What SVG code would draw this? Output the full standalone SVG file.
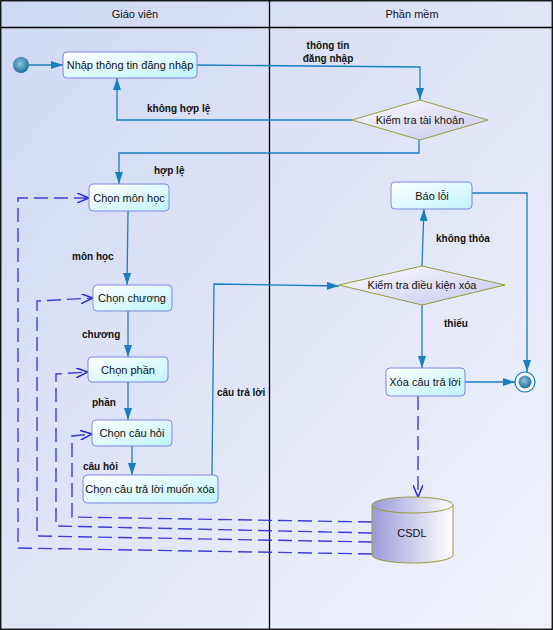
<svg xmlns="http://www.w3.org/2000/svg" width="553" height="630" viewBox="0 0 553 630">
<defs>
<linearGradient id="bg" x1="0" y1="0" x2="1" y2="1">
<stop offset="0" stop-color="#cfd9f4"/>
<stop offset="1" stop-color="#f1f2fb"/>
</linearGradient>
<linearGradient id="box" x1="0" y1="0" x2="1" y2="1">
<stop offset="0" stop-color="#ffffff"/>
<stop offset="1" stop-color="#bff4fb"/>
</linearGradient>
<linearGradient id="dia" x1="0" y1="0" x2="1" y2="1">
<stop offset="0" stop-color="#ffffff"/>
<stop offset="1" stop-color="#c4c4f0"/>
</linearGradient>
<linearGradient id="cyl" x1="0" y1="0" x2="1" y2="0">
<stop offset="0" stop-color="#9a9ad8"/>
<stop offset="1" stop-color="#ffffff"/>
</linearGradient>
<radialGradient id="dot" cx="0.45" cy="0.4" r="0.6">
<stop offset="0" stop-color="#8ec4d8"/>
<stop offset="1" stop-color="#1d6f9e"/>
</radialGradient>
<marker id="ah" viewBox="0 0 12 8" refX="12" refY="4" markerWidth="12" markerHeight="8" markerUnits="userSpaceOnUse" orient="auto">
<path d="M0,0 L12,4 L0,8 Z" fill="#1a7fbf"/>
</marker>
<marker id="oh" viewBox="0 0 12 10" refX="12" refY="5" markerWidth="12" markerHeight="10" markerUnits="userSpaceOnUse" orient="auto">
<path d="M0,0 L12,5 L0,10" fill="none" stroke="#2a2ad0" stroke-width="1.5"/>
</marker>
</defs>
<style>
.node rect{fill:url(#box);stroke:#7f86e0;stroke-width:1}
.node polygon{fill:url(#dia);stroke:#9a9a3a;stroke-width:1}
text{font-family:"Liberation Sans",Arial,sans-serif;font-size:11px;fill:#111}
.nt{text-anchor:middle;dominant-baseline:central}
.lbl{font-weight:bold;font-size:10px;fill:#111}
.flow path{fill:none;stroke:#1a7fbf;stroke-width:1.3}
.flow path.a{marker-end:url(#ah)}
.data path{fill:none;stroke:#3c3cd8;stroke-width:1.4;stroke-dasharray:14 6}
.data path.a{marker-end:url(#oh)}
</style>
<rect x="0" y="0" width="553" height="630" fill="url(#bg)"/>
<g id="lanes" fill="none" stroke="#000" stroke-width="1.3">
<rect x="0.75" y="0.75" width="551.5" height="628.5"/>
<line x1="0" y1="27.5" x2="553" y2="27.5"/>
<line x1="269.5" y1="0" x2="269.5" y2="630"/>
</g>
<text class="nt" x="135" y="14">Giáo viên</text>
<text class="nt" x="412" y="14">Phần mềm</text>

<g id="connectors">
<g class="flow">
<path class="a" d="M29,65 L63,65"/>
<path class="a" d="M197,65 L420,67 L420,100"/>
<path class="a" d="M352,120 L117,120 L117,78"/>
<path class="a" d="M419,140 L419,153 L119,153 L119,184"/>
<path class="a" d="M128,211 L127,285"/>
<path class="a" d="M128,311 L128,357"/>
<path class="a" d="M128,382 L128,420"/>
<path class="a" d="M132,446 L132,475"/>
<path class="a" d="M212,475 L214,284 L339,286"/>
<path class="a" d="M422,266 L424,209"/>
<path class="a" d="M422,305 L422,368"/>
<path class="a" d="M472,193 L527,193 L527,372"/>
<path class="a" d="M465,382 L515,382"/>
</g>
<g class="data">
<path class="a" d="M418,396 L418,497"/>
<path class="a" d="M372,554 L18,548 L18,198 L89,198"/>
<path class="a" d="M372,542 L37,536 L37,301 L93,298"/>
<path class="a" d="M372,533 L56,526 L56,374 L88,372"/>
<path class="a" d="M372,522 L72,517 L72,436 L92,434"/>
</g>
</g>

<g id="start"><circle cx="21" cy="65" r="8" fill="url(#dot)"/></g>
<g id="end"><circle cx="525" cy="382" r="10" fill="#fff" stroke="#1a7fbf" stroke-width="1.2"/><circle cx="525" cy="382" r="6.5" fill="url(#dot)"/></g>

<g id="n-nhap" class="node"><rect x="63" y="52" width="134" height="26" rx="4"/><text class="nt" x="130" y="65">Nhập thông tin đăng nhập</text></g>
<g id="n-kttk" class="node"><polygon points="420,100 488,120 420,140 352,120"/><text class="nt" x="420" y="120">Kiểm tra tài khoản</text></g>
<g id="n-monhoc" class="node"><rect x="89" y="184" width="80" height="27" rx="4"/><text class="nt" x="129" y="198">Chọn môn học</text></g>
<g id="n-baoloi" class="node"><rect x="391" y="182" width="81" height="27" rx="4"/><text class="nt" x="432" y="196">Báo lỗi</text></g>
<g id="n-ktdk" class="node"><polygon points="422,266 505,285 422,305 339,285"/><text class="nt" x="422" y="285">Kiểm tra điều kiện xóa</text></g>
<g id="n-chuong" class="node"><rect x="93" y="285" width="79" height="26" rx="4"/><text class="nt" x="132" y="298">Chọn chương</text></g>
<g id="n-phan" class="node"><rect x="88" y="357" width="80" height="25" rx="4"/><text class="nt" x="128" y="370">Chọn phần</text></g>
<g id="n-xoa" class="node"><rect x="386" y="368" width="79" height="28" rx="4"/><text class="nt" x="425" y="382">Xóa câu trả lời</text></g>
<g id="n-cauhoi" class="node"><rect x="92" y="420" width="80" height="26" rx="4"/><text class="nt" x="132" y="433">Chọn câu hỏi</text></g>
<g id="n-muonxoa" class="node"><rect x="83" y="475" width="135" height="28" rx="4"/><text class="nt" x="150" y="489">Chọn câu trả lời muốn xóa</text></g>
<g id="n-csdl">
<path d="M372,505 L372,555 A40.5,8 0 0 0 453,555 L453,505 Z" fill="url(#cyl)" stroke="#9a9a3a" stroke-width="1"/>
<ellipse cx="412.5" cy="505" rx="40.5" ry="8" fill="url(#cyl)" stroke="#9a9a3a" stroke-width="1"/>
<text class="nt" x="412" y="533">CSDL</text>
</g>

<g id="labels">
<text class="lbl" x="328" y="49" text-anchor="middle">thông tin</text>
<text class="lbl" x="328" y="62" text-anchor="middle">đăng nhập</text>
<text class="lbl" x="147" y="112">không hợp lệ</text>
<text class="lbl" x="154" y="174">hợp lệ</text>
<text class="lbl" x="72" y="260">môn học</text>
<text class="lbl" x="82" y="338">chương</text>
<text class="lbl" x="92" y="406">phần</text>
<text class="lbl" x="83" y="470">câu hỏi</text>
<text class="lbl" x="217" y="396">câu trả lời</text>
<text class="lbl" x="436" y="242">không thỏa</text>
<text class="lbl" x="444" y="327">thiếu</text>
</g>
</svg>
